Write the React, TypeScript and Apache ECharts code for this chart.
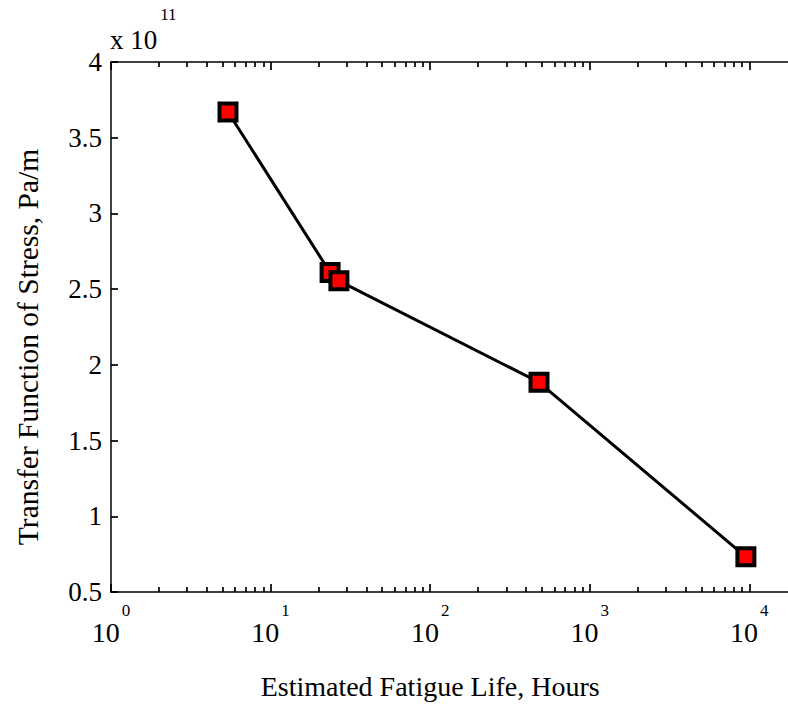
import React, { useEffect, useRef } from "react";
import * as echarts from "echarts";

// Data
const fatigueLifeHours = [5.41, 23.6, 26.8, 481, 9520];
const stressTransfer = [3.67e11, 2.61e11, 2.555e11, 1.885e11, 0.732e11];

// Axis ranges / tick labels
const xDecadeMin = 1;
const xDecadeMax = 10000;
const yTickLabels = ["0.5", "1", "1.5", "2", "2.5", "3", "3.5", "4"];

const FONT = "Liberation Serif";

export default function App() {
  const ref = useRef<HTMLDivElement>(null);

  useEffect(() => {
    if (!ref.current) return;
    const chart = echarts.init(ref.current, null, { renderer: "svg" });

    const lineStyle = { color: "#000", width: 1.5 };
    const tickLine = { color: "#000", width: 1.7 };

    const logX = {
      type: "log" as const,
      logBase: 10,
      min: xDecadeMin,
      max: xDecadeMax,
      gridIndex: 1,
      splitLine: { show: false },
      minorSplitLine: { show: false },
      axisLine: { show: false },
      axisTick: { show: true, inside: true, length: 8, lineStyle: tickLine },
      minorTick: { show: true, splitNumber: 9, length: 5, lineStyle: tickLine },
    };

    const option: any = {
      animation: false,
      backgroundColor: "#fff",
      title: {
        text: "{a|x 10}{e|11}",
        left: 110,
        top: 6,
        padding: 0,
        textStyle: {
          fontWeight: "normal",
          rich: {
            a: { fontFamily: FONT, fontSize: 27, fontWeight: "normal", color: "#000", padding: [20, 0, 0, 0], verticalAlign: "bottom" },
            e: { fontFamily: FONT, fontSize: 17, fontWeight: "normal", color: "#000", verticalAlign: "top", padding: [0, 0, 0, 3] },
          },
        },
      },
      grid: [
        // full axes box (runs past the right edge of the figure)
        { left: 111, top: 62, right: 0, bottom: 116, containLabel: false },
        // decade-aligned data area: 10^0 .. 10^4
        { left: 111, top: 62, right: 38.7, bottom: 116, containLabel: false },
      ],
      xAxis: [
        {
          type: "value",
          gridIndex: 0,
          position: "bottom",
          min: 0,
          max: 1,
          axisLine: { show: true, lineStyle },
          axisTick: { show: false },
          axisLabel: { show: false },
          splitLine: { show: false },
        },
        {
          type: "value",
          gridIndex: 0,
          position: "top",
          min: 0,
          max: 1,
          axisLine: { show: true, lineStyle },
          axisTick: { show: false },
          axisLabel: { show: false },
          splitLine: { show: false },
        },
        {
          ...logX,
          position: "bottom",
          axisLabel: {
            show: true,
            margin: 10,
            formatter: (v: number) => `{b|10}{e|${Math.round(Math.log10(v))}}`,
            rich: {
              b: { fontFamily: FONT, fontSize: 28, color: "#000", padding: [16, 0, 0, 0], verticalAlign: "bottom" },
              e: { fontFamily: FONT, fontSize: 17, color: "#000", verticalAlign: "top", padding: [0, 0, 0, 2] },
            },
          },
          name: "Estimated Fatigue Life, Hours",
          nameLocation: "middle",
          nameGap: 80,
          nameTextStyle: { fontFamily: FONT, fontSize: 28, color: "#000" },
        },
        {
          ...logX,
          position: "top",
          axisLabel: { show: false },
        },
      ],
      yAxis: [
        { type: "value", gridIndex: 0, min: 0, max: 1, show: false },
        {
          type: "value",
          gridIndex: 1,
          min: 0.5e11,
          max: 4e11,
          interval: 0.5e11,
          axisLine: { show: true, lineStyle },
          axisTick: { show: true, inside: true, length: 7, lineStyle: tickLine },
          splitLine: { show: false },
          axisLabel: {
            margin: 9,
            fontFamily: FONT,
            fontSize: 27,
            color: "#000",
            formatter: (v: number) => {
              const idx = Math.round(v / 0.5e11) - 1;
              return yTickLabels[idx] ?? "";
            },
          },
          name: "Transfer Function of Stress, Pa/m",
          nameLocation: "middle",
          nameRotate: 90,
          nameGap: 68,
          nameTextStyle: { fontFamily: FONT, fontSize: 29.5, color: "#000", padding: [0, 40, 0, 0] },
        },
      ],
      series: [
        {
          type: "line",
          xAxisIndex: 2,
          yAxisIndex: 1,
          data: fatigueLifeHours.map((x, i) => [x, stressTransfer[i]]),
          lineStyle: { color: "#000", width: 3 },
          symbol: "rect",
          symbolSize: 17,
          itemStyle: { color: "#ff0000", borderColor: "#000", borderWidth: 4 },
          emphasis: { disabled: true },
          clip: false,
          z: 3,
        },
      ],
    };

    chart.setOption(option);
    return () => chart.dispose();
  }, []);

  return (
    <div
      ref={ref}
      style={{ position: "absolute", left: 0, top: 0, width: 788, height: 708, background: "#fff" }}
    />
  );
}
